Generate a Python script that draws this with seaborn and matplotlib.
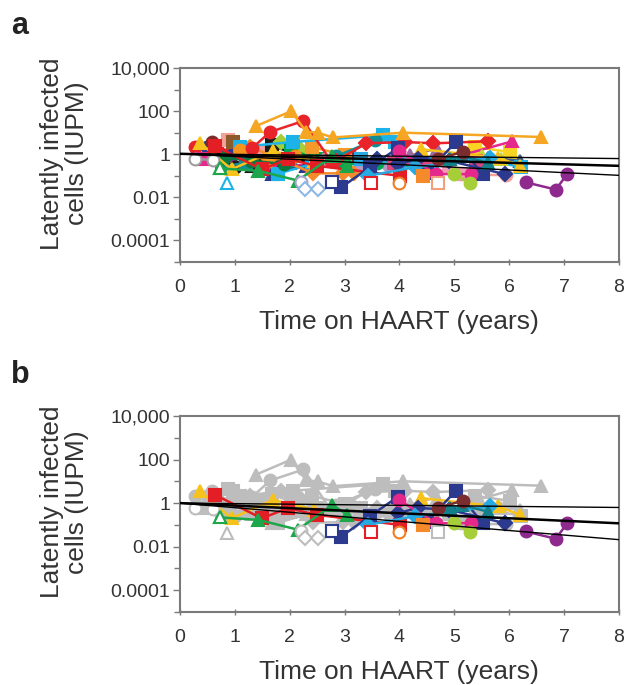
import numpy as np
import pandas as pd
import matplotlib
matplotlib.use('Agg')
import matplotlib.pyplot as plt
import seaborn as sns
from matplotlib.ticker import FixedLocator, FixedFormatter, NullFormatter

# ---- data: one entry per patient (time on HAART in years, IUPM) ----
times = [
    [0.27, 0.6], [0.27, 0.67, 1.05], [0.49, 0.95, 1.35], [0.58, 1.6, 3.13],
    [0.88, 1.45], [0.97, 1.49, 2.0], [0.40, 1.73, 2.46], [0.73, 1.0, 1.55],
    [1.31, 1.9], [1.67, 2.15], [0.76, 1.2, 2.0], [1.67, 2.3], [1.79, 2.4],
    [0.85], [1.85, 2.2], [2.03, 2.5, 3.0], [2.4, 3.0], [1.28, 2.43, 2.97, 3.18],
    [2.2], [2.28, 2.52], [1.09, 2.06, 3.70, 3.92], [2.85, 3.55],
    [2.6, 3.3, 3.8], [3.0, 3.6, 4.2], [3.3, 4.0, 4.6], [3.6, 3.92, 4.4],
    [4.2, 4.68], [5.37, 6.01], [5.2, 6.06], [5.62, 6.19], [5.6, 6.22],
    [5.13, 5.95], [4.70], [4.9, 5.13], [5.5, 5.85],
    [1.1, 1.6, 2.1], [0.8, 1.3, 1.9], [3.9, 4.5, 5.4],
    [1.31, 1.65, 2.25, 2.75], [2.85, 3.40, 4.10, 4.62, 5.62],
    [1.38, 2.03, 2.30, 2.51, 2.79, 4.07, 6.59],
    # patients highlighted in panel b
    [0.36, 0.94, 1.70, 2.45], [4.40, 5.80, 6.20],
    [0.64, 1.49, 1.97, 2.49, 4.01], [3.49],
    [0.73, 1.43, 2.15, 2.78, 3.05], [0.73],
    [2.78, 2.94, 3.46, 3.98], [2.78],
    [4.50, 5.03, 5.52], [3.98, 4.34, 4.9, 5.92],
    [6.30, 6.85, 7.06], [3.99, 4.67, 5.31], [3.43, 4.28, 5.65],
    [5.0, 5.28], [4.92, 5.15, 5.62], [4.7, 5.16], [3.99], [4.43],
]
iupm = [
    [0.6, 0.55], [2.2, 1.8, 1.4], [2.2, 0.9, 0.7], [3.7, 1.1, 0.75],
    [4.5, 1.3], [3.7, 0.3, 0.55], [0.6, 0.3, 0.32], [0.6, 0.26, 0.45],
    [0.3, 0.5], [2.6, 0.9], [0.26, 0.4, 0.4], [0.126, 0.3], [0.126, 0.35],
    [0.044], [3.7, 1.5], [1.6, 0.6, 0.4], [2.2, 0.9], [2.2, 0.13, 0.13, 0.13],
    [0.05], [0.025, 0.025], [2.2, 3.7, 7.6, 3.7], [0.8, 4.5],
    [0.5, 0.35, 0.3], [0.35, 0.4, 0.5], [0.6, 0.4, 0.35], [0.6, 0.5, 0.75],
    [0.9, 1.8], [2.2, 1.26], [1.0, 4.0], [0.7, 0.5], [0.5, 0.26],
    [0.12, 0.105], [0.045], [0.3, 0.12], [0.8, 0.6],
    [1.5, 0.5, 0.8], [0.7, 0.5, 0.35], [0.4, 0.3, 0.5],
    [1.9, 11, 35, 0.5], [0.5, 3.2, 3.7, 3.2, 4.0],
    [20, 100, 11, 10, 6, 10, 6.3],
    [3.5, 0.2, 1.4, 0.5], [1.7, 0.7, 0.29],
    [2.4, 0.2, 0.59, 0.29, 0.1], [0.045],
    [0.22, 0.17, 0.06, 0.83, 0.29], [0.22],
    [0.05, 0.029, 0.25, 2.0], [0.05],
    [0.14, 3.7, 0.12], [0.35, 0.6, 0.5, 0.12],
    [0.05, 0.023, 0.12], [1.4, 0.12, 0.12], [0.1, 0.25, 0.7],
    [0.12, 0.045], [0.6, 0.8, 0.4], [0.6, 1.3], [0.045], [0.1],
]
n_grey = 41
highlight = [False] * n_grey + [True] * (len(times) - n_grey)

# decay fits (start and end of each line, x = 0 and 8 years)
fit_t = [0, 8]
fit_a = [[1.05, 0.63], [1.05, 0.29], [1.05, 0.105]]
fit_b = [[1.0, 0.63], [1.0, 0.118], [1.0, 0.021]]

# ---- styles ----
colors = [
    '#9E9E9E', '#E8232A', '#2B3A8F', '#7B2C2E', '#F3A29A', '#8C5A2B', '#E5288B',
    '#1A1A1A', '#1A1A1A', '#1A1A1A', '#138E96', '#2B3A8F', '#1CB4E8', '#1CB4E8',
    '#A6CE39', '#00A651', '#F39A2B', '#F58A2A', '#A9A3D2', '#8DB8E3', '#1CB4E8',
    '#138E96', '#B49AC8', '#00A651', '#27AAE1', '#2B3A8F', '#9D6B9E', '#F9D423',
    '#E5288B', '#3F5E8C', '#1CB4E8', '#F3A29A', '#F3A07A', '#F29BB4', '#C5D63D',
    '#F7941D', '#0B7A3E', '#D9477E',
    '#E8232A', '#E8232A', '#F5A623',
    '#F8C21C', '#F8C21C', '#E31E24', '#E31E24', '#1EA64B', '#1EA64B',
    '#2B3A8F', '#2B3A8F', '#2B3A8F', '#2B3A8F', '#8E2A8E', '#E5288B', '#27AAE1',
    '#A6CE39', '#12808A', '#7B2C2E', '#F07E26', '#F58A2A',
]
markers = [
    'o', 'o', 'o', 'o', 's', 's', 's', 'o', '^', 's', 's', '^', 's', '^', 'D',
    's', 's', 'D', 'o', 'D', 's', 'o', 'D', 'o', 's', 'D', '^', 's', '^', '^',
    's', 'o', 's', 's', '^', 'o', 'o', 's', 'o', 'D', '^',
    '^', '^', 's', 's', '^', '^', 's', 's', 's', 'D', 'o', 'o', 'D', 'o', '^',
    'o', 'o', 's',
]
hollow = {0, 13, 18, 19, 32, 44, 46, 48, 57}
msize = {'o': 8.5, 's': 8.0, '^': 9.0, 'D': 7.0}
GREY = '#BDBDBD'
AXC = '#7A7A7A'
TXT = '#333333'

sns.set_style('white')
plt.rcParams['font.family'] = ['Liberation Sans', 'DejaVu Sans']

fig = plt.figure(figsize=(6.27, 6.85), dpi=100)
ax_a = fig.add_axes([0.287, 0.6175, 0.700, 0.2832])
ax_b = fig.add_axes([0.287, 0.1066, 0.700, 0.2861])


def draw_panel(ax, grey_others, fits):
    ax.set_yscale('log')
    order = list(range(len(times)))
    if grey_others:
        order = [i for i in order if not highlight[i]] + [i for i in order if highlight[i]]
    for i in order:
        c = colors[i]
        if grey_others and not highlight[i]:
            c = GREY
        fc = 'white' if i in hollow else c
        m = markers[i]
        sns.lineplot(x=times[i], y=iupm[i], ax=ax, color=c, marker=m,
                     markersize=msize[m], markerfacecolor=fc, markeredgecolor=c,
                     markeredgewidth=1.5, linewidth=1.8, estimator=None,
                     sort=False, legend=False, zorder=3 if i in hollow else 2)
    for k, f in enumerate(fits):
        sns.lineplot(x=fit_t, y=f, ax=ax, color='black',
                     linewidth=1.8 if k == 1 else 1.0, legend=False, zorder=5)

    ax.set_xlim(0, 8)
    ax.set_ylim(1e-5, 1e4)
    ax.xaxis.set_major_locator(FixedLocator(range(9)))
    ax.yaxis.set_major_locator(FixedLocator([1e-4, 1e-2, 1, 1e2, 1e4]))
    ax.yaxis.set_major_formatter(FixedFormatter(['0.0001', '0.01', '1', '100', '10,000']))
    ax.yaxis.set_minor_locator(FixedLocator([1e-5, 1e-3, 1e-1, 10, 1e3]))
    ax.yaxis.set_minor_formatter(NullFormatter())
    ax.tick_params(axis='y', which='major', direction='out', length=5, width=1,
                   color=AXC, labelsize=14, labelcolor=TXT, pad=2, left=True)
    ax.tick_params(axis='y', which='minor', direction='out', length=4, width=1,
                   color=AXC, left=True)
    ax.tick_params(axis='x', direction='inout', length=5, width=1, color=AXC,
                   labelsize=14, labelcolor=TXT, pad=10, bottom=True)
    for s in ax.spines.values():
        s.set_visible(True)
        s.set_color(AXC)
        s.set_linewidth(1.5)
    ax.set_xlabel('Time on HAART (years)', fontsize=19, color=TXT, labelpad=10)
    ax.set_ylabel('')
    ax.text(-0.262, 0.56, 'Latently infected\ncells (IUPM)', transform=ax.transAxes,
            rotation=90, ha='center', va='center', fontsize=19, color=TXT,
            linespacing=1.05)


draw_panel(ax_a, False, fit_a)
draw_panel(ax_b, True, fit_b)

fig.text(0.018, 0.962, 'a', fontsize=22, fontweight='bold', color='#222222', va='center')
fig.text(0.018, 0.453, 'b', fontsize=22, fontweight='bold', color='#222222', va='center')

plt.savefig('out.png', dpi=100)
